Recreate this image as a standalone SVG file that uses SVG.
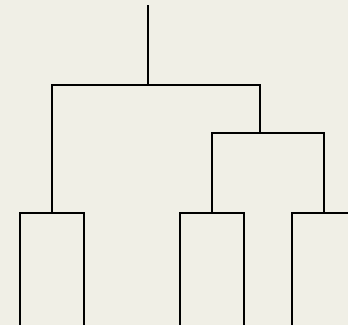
<svg xmlns="http://www.w3.org/2000/svg" width="348" height="325" viewBox="0 0 348 325">
<style>
.l{fill:none;stroke:#000;stroke-width:2;stroke-linejoin:miter;stroke-linecap:butt}
</style>
<rect width="348" height="325" fill="#F0EFE6"/>
<g id="connectors">
<path class="l" d="M148 5V85"/>
<path class="l" d="M52 213V85H260V133"/>
<path class="l" d="M212 213V133H324V213"/>
<path class="l" d="M20 326V213H84V326"/>
<path class="l" d="M180 326V213H244V326"/>
<path class="l" d="M292 326V213H356V326"/>
</g>
</svg>
